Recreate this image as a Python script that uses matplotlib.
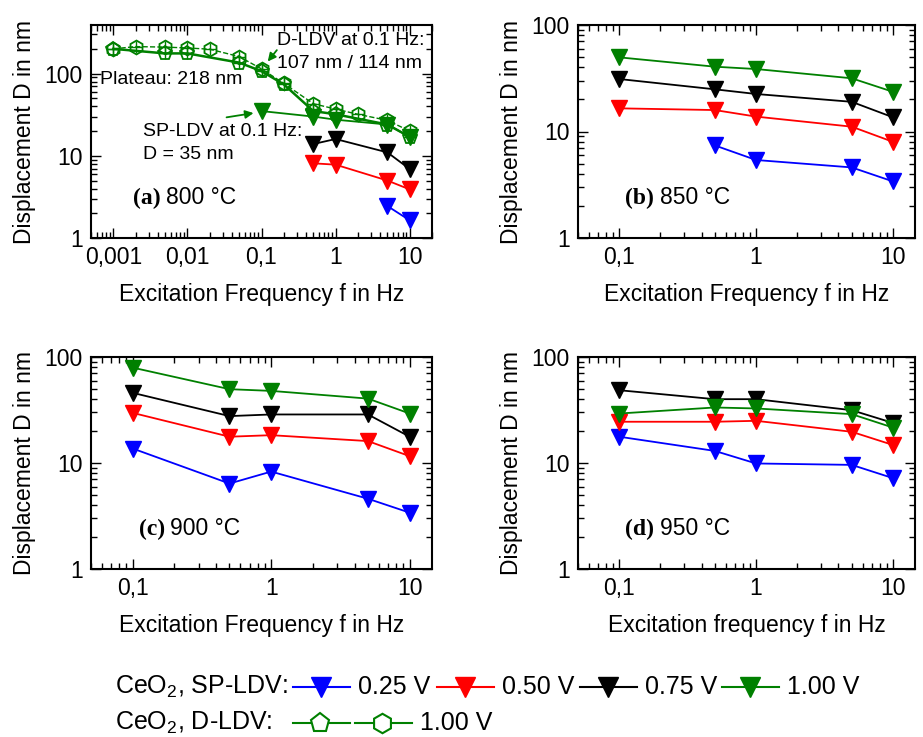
import matplotlib
matplotlib.use("Agg")
import matplotlib.pyplot as plt
from matplotlib.lines import Line2D
from matplotlib.ticker import FuncFormatter, LogLocator

plt.rcParams['font.family'] = ['Liberation Sans', 'DejaVu Sans']
plt.rcParams['mathtext.fontset'] = 'custom'
plt.rcParams['mathtext.rm'] = 'Liberation Sans'

# ---- data ----
freq = [0.1, 0.5, 1, 5, 10]

# (a) 800 °C
freq_a_hex = [0.001, 0.002, 0.005, 0.01, 0.02, 0.05, 0.1, 0.2, 0.5, 1, 2, 5, 10]
d_a_hex = [200, 213, 210, 205, 198, 161, 114, 76, 43, 37, 32, 27, 20]
freq_a_pent = [0.001, 0.005, 0.01, 0.05, 0.1, 0.2, 0.5, 1, 5, 10]
d_a_pent = [200, 176, 176, 136, 107, 74, 35, 32, 24, 17]
freq_a_100 = [0.1, 0.5, 1, 5, 10]
d_a_100 = [35, 30, 27.5, 24, 17]
freq_a_075 = [0.5, 1, 5, 10]
d_a_075 = [13.9, 16, 11, 6.9]
freq_a_050 = [0.5, 1, 5, 10]
d_a_050 = [8.1, 7.8, 5.0, 3.9]
freq_a_025 = [5, 10]
d_a_025 = [2.45, 1.64]

# (b) 850 °C
freq_b_025 = [0.5, 1, 5, 10]
d_b_025 = [7.4, 5.4, 4.6, 3.4]
d_b_050 = [16.5, 15.9, 13.8, 11.1, 8.0]
d_b_075 = [31.1, 24.9, 22.5, 19.0, 13.6]
d_b_100 = [49.7, 40.6, 38.6, 31.6, 23.6]

# (c) 900 °C
d_c_025 = [13.7, 6.4, 8.3, 4.6, 3.4]
d_c_050 = [29.7, 17.7, 18.3, 16.1, 11.6]
d_c_075 = [45.9, 27.7, 28.7, 28.7, 17.7]
d_c_100 = [79.4, 49.7, 47.9, 40.5, 29.3]

# (d) 950 °C
d_d_025 = [17.7, 13.0, 9.9, 9.6, 7.2]
d_d_050 = [24.5, 24.5, 25.0, 19.7, 14.8]
d_d_075 = [48.6, 40.0, 40.0, 31.5, 23.9]
d_d_100 = [29.3, 33.4, 32.7, 28.9, 21.6]

voltages = ['0.25 V', '0.50 V', '0.75 V', '1.00 V']
green = '#008000'
colors = ['#0000ff', '#ff0000', 'black', green]

W, H = 923, 737
fig = plt.figure(figsize=(W / 100, H / 100), dpi=100)


def box(l, t, r, b):
    return [l / W, 1 - b / H, (r - l) / W, (b - t) / H]


comma = FuncFormatter(lambda v, p: f"{v:g}".replace('.', ','))


def style(ax, xlim, ylim, xlabel):
    ax.set_xscale('log')
    ax.set_yscale('log')
    ax.set_xlim(*xlim)
    ax.set_ylim(*ylim)
    ax.xaxis.set_major_locator(LogLocator(base=10, numticks=20))
    ax.xaxis.set_minor_locator(LogLocator(base=10, subs=range(2, 10), numticks=20))
    ax.xaxis.set_major_formatter(comma)
    ax.yaxis.set_major_formatter(comma)
    ax.tick_params(which='both', direction='in', top=True, right=True, width=1)
    ax.tick_params(which='major', length=7, labelsize=16.5, pad=6)
    ax.tick_params(which='minor', length=4)
    for s in ax.spines.values():
        s.set_linewidth(1.5)
    ax.set_xlabel(xlabel, fontsize=16.5, labelpad=10)
    ax.set_ylabel('Displacement D in nm', fontsize=16.5, labelpad=6)


def tri(ax, x, y, c, ms=12):
    ax.plot(x, y, '-', color=c, lw=1.3, marker='v', ms=ms, mfc=c, mec=c)


def panel_label(ax, x, y, letter, temp):
    t = ax.text(x, y, f'({letter})', transform=ax.transAxes, fontsize=17,
                fontweight='bold', family='Liberation Serif', va='baseline')
    ax.annotate(temp, xy=(1, 0), xycoords=t, xytext=(4, 0),
                textcoords='offset points', fontsize=16.5, va='bottom')


# ---- (a) ----
ax = fig.add_axes(box(91, 25, 432, 238))
ax.plot(freq_a_hex, d_a_hex, '--', color=green, lw=1, marker='h', ms=10,
        mfc='none', mec=green, mew=1.3)
ax.plot(freq_a_hex, d_a_hex, 'none', marker='+', ms=8, mec=green, mew=1)
ax.plot(freq_a_pent, d_a_pent, '-', color=green, lw=1.8, marker='p', ms=10,
        mfc='none', mec=green, mew=1.3)
ax.plot(freq_a_pent, d_a_pent, 'none', marker='+', ms=8, mec=green, mew=1)
tri(ax, freq_a_025, d_a_025, colors[0])
tri(ax, freq_a_050, d_a_050, colors[1])
tri(ax, freq_a_075, d_a_075, colors[2])
tri(ax, freq_a_100, d_a_100, colors[3])
style(ax, (0.0005, 20), (1, 390), 'Excitation Frequency f in Hz')
ax.text(0.545, 0.965, 'D-LDV at 0.1 Hz:\n107 nm / 114 nm', transform=ax.transAxes,
        fontsize=14, va='top', ha='left', linespacing=1.45)
ax.annotate('', xy=(0.115, 132), xytext=(0.17, 205),
            arrowprops=dict(arrowstyle='-|>', color=green, lw=1.3, mutation_scale=12))
ax.text(0.026, 0.746, 'Plateau: 218 nm', transform=ax.transAxes,
        fontsize=14, va='center', ha='left')
ax.text(0.152, 0.54, 'SP-LDV at 0.1 Hz:\nD = 35 nm', transform=ax.transAxes,
        fontsize=14, va='top', ha='left', linespacing=1.45)
ax.annotate('', xy=(0.085, 33.5), xytext=(0.031, 29),
            arrowprops=dict(arrowstyle='-|>', color=green, lw=1.3, mutation_scale=12))
panel_label(ax, 0.123, 0.16, 'a', '800 °C')

# ---- (b), (c), (d) ----
panels = [
    (box(578, 25, 915, 238), 'b', '850 °C', [d_b_025, d_b_050, d_b_075, d_b_100],
     'Excitation Frequency f in Hz'),
    (box(91, 357, 432, 569), 'c', '900 °C', [d_c_025, d_c_050, d_c_075, d_c_100],
     'Excitation Frequency f in Hz'),
    (box(578, 357, 915, 569), 'd', '950 °C', [d_d_025, d_d_050, d_d_075, d_d_100],
     'Excitation frequency f in Hz'),
]
for rect, letter, temp, series, xl in panels:
    ax = fig.add_axes(rect)
    for i, d in enumerate(series):
        x = freq_b_025 if len(d) == 4 else freq
        tri(ax, x, d, colors[i])
    style(ax, (0.05, 14.5), (1, 100), xl)
    panel_label(ax, 0.14, 0.16, letter, temp)

# ---- legend below the panels ----
lfont = dict(fontsize=18, va='center', ha='left')
y1, y2 = 1 - 687 / H, 1 - 723 / H
fig.text(115 / W, y1, 'CeO$_\\mathregular{2}$, SP-LDV:', **lfont)
fig.text(115 / W, y2, 'CeO$_\\mathregular{2}$, D-LDV:', **lfont)
starts = [293, 437, 580, 722]
for i, x0 in enumerate(starts):
    fig.add_artist(Line2D([x0 / W, (x0 + 57) / W], [y1, y1], color=colors[i], lw=1.5,
                          transform=fig.transFigure))
    fig.add_artist(Line2D([(x0 + 28) / W], [y1], marker='v', ms=15, color=colors[i],
                          transform=fig.transFigure))
    fig.text((x0 + 65) / W, y1, voltages[i], **lfont)
for x0, m in [(293, 'p'), (355, 'h')]:
    fig.add_artist(Line2D([x0 / W, (x0 + 57) / W], [y2, y2], color=green, lw=1.5,
                          transform=fig.transFigure))
    fig.add_artist(Line2D([(x0 + 27) / W], [y2], marker=m, ms=14, mfc='white',
                          mec=green, mew=1.5, transform=fig.transFigure))
fig.text(420 / W, y2, voltages[3], **lfont)

fig.savefig('out.png', dpi=100)
